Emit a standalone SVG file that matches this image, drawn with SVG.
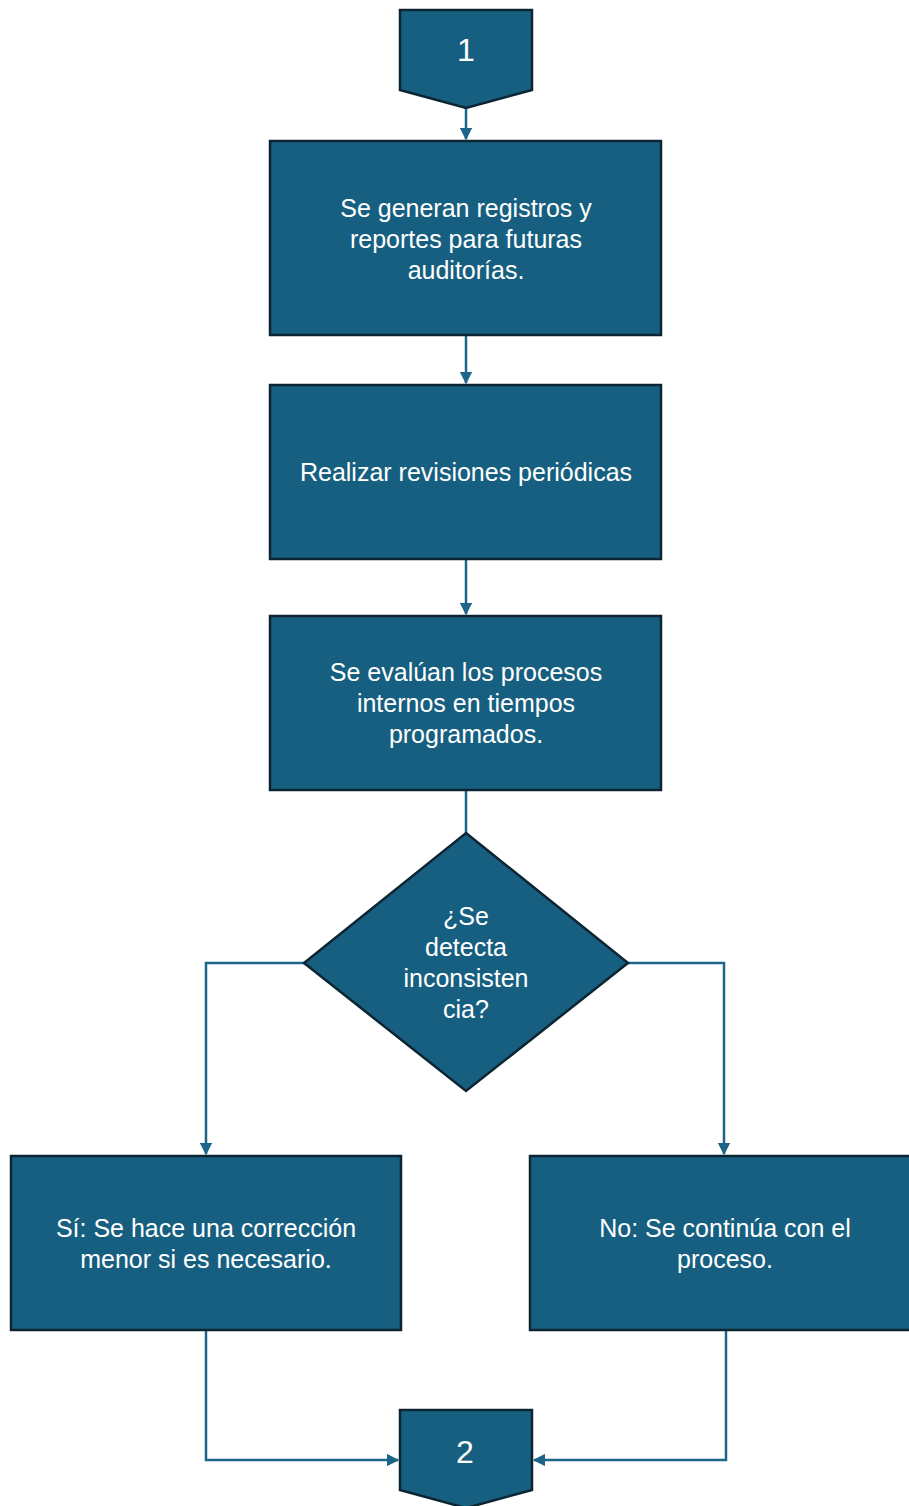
<svg xmlns="http://www.w3.org/2000/svg" width="909" height="1506" viewBox="0 0 909 1506">
  <style>
    .shape { fill: #175f80; stroke: #0d2533; stroke-width: 2.5; }
    .label { fill: #ffffff; font-family: "Liberation Sans", Arial, sans-serif; font-size: 25px; text-anchor: middle; }
    .num { font-size: 32px; }
    .wire { fill: none; stroke: #1d6689; stroke-width: 2.5; }
  </style>
  <defs>
    <marker id="arrow" viewBox="0 0 10 10" refX="9" refY="5" markerWidth="5" markerHeight="5" orient="auto" markerUnits="strokeWidth">
      <path d="M0,0 L10,5 L0,10 z" fill="#1d6689"/>
    </marker>
  </defs>
  <rect width="909" height="1506" fill="#ffffff"/>

  <g id="connectors">
    <path class="wire" d="M466,108 L466,139" marker-end="url(#arrow)"/>
    <path class="wire" d="M466,335 L466,383" marker-end="url(#arrow)"/>
    <path class="wire" d="M466,559 L466,614" marker-end="url(#arrow)"/>
    <path class="wire" d="M466,790 L466,833"/>
    <path class="wire" d="M304,963 L206,963 L206,1154" marker-end="url(#arrow)"/>
    <path class="wire" d="M628,963 L724,963 L724,1154" marker-end="url(#arrow)"/>
    <path class="wire" d="M206,1330 L206,1460 L398,1460" marker-end="url(#arrow)"/>
    <path class="wire" d="M726,1330 L726,1460 L534,1460" marker-end="url(#arrow)"/>
  </g>

  <g id="start-ref">
    <path class="shape" d="M400,10 L532,10 L532,90 L466,108 L400,90 Z"/>
    <text class="label num" x="466" y="61">1</text>
  </g>

  <g id="step-records">
    <rect class="shape" x="270" y="141" width="391" height="194"/>
    <text class="label" x="466" y="217">Se generan registros y</text>
    <text class="label" x="466" y="248">reportes para futuras</text>
    <text class="label" x="466" y="279">auditorías.</text>
  </g>

  <g id="step-reviews">
    <rect class="shape" x="270" y="385" width="391" height="174"/>
    <text class="label" x="466" y="481">Realizar revisiones periódicas</text>
  </g>

  <g id="step-evaluate">
    <rect class="shape" x="270" y="616" width="391" height="174"/>
    <text class="label" x="466" y="681">Se evalúan los procesos</text>
    <text class="label" x="466" y="712">internos en tiempos</text>
    <text class="label" x="466" y="743">programados.</text>
  </g>

  <g id="decision">
    <path class="shape" d="M466,833 L628,963 L466,1091 L304,963 Z"/>
    <text class="label" x="466" y="925">¿Se</text>
    <text class="label" x="466" y="956">detecta</text>
    <text class="label" x="466" y="987">inconsisten</text>
    <text class="label" x="466" y="1018">cia?</text>
  </g>

  <g id="branch-yes">
    <rect class="shape" x="11" y="1156" width="390" height="174"/>
    <text class="label" x="206" y="1237">Sí: Se hace una corrección</text>
    <text class="label" x="206" y="1268">menor si es necesario.</text>
  </g>

  <g id="branch-no">
    <rect class="shape" x="530" y="1156" width="382" height="174"/>
    <text class="label" x="725" y="1237">No: Se continúa con el</text>
    <text class="label" x="725" y="1268">proceso.</text>
  </g>

  <g id="end-ref">
    <path class="shape" d="M400,1410 L532,1410 L532,1490 L466,1508 L400,1490 Z"/>
    <text class="label num" x="465" y="1463">2</text>
  </g>
</svg>
